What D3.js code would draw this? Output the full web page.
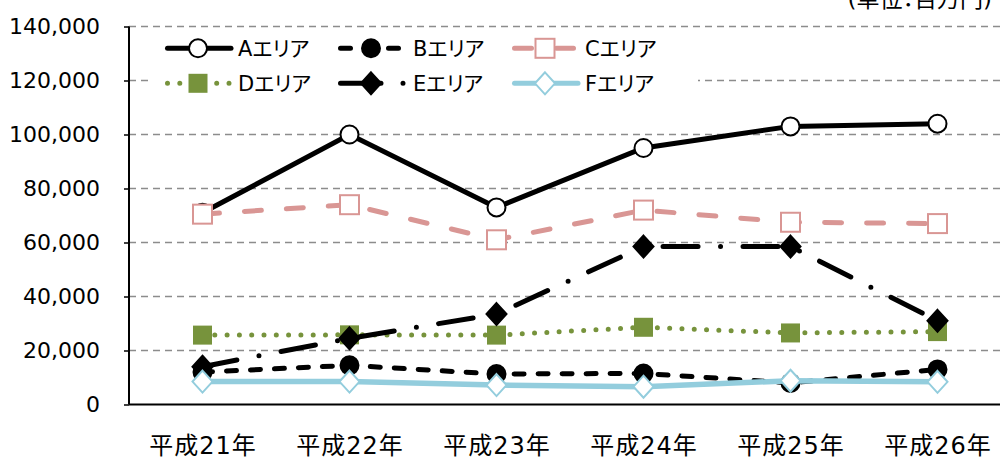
<!DOCTYPE html>
<html>
<head>
<meta charset="utf-8">
<script src="https://cdn.jsdelivr.net/npm/d3@7"></script>
<style>
  body { margin: 0; background: #fff; }
  svg { display: block; }
  text { font-family: "DejaVu Sans", "Noto Sans CJK JP", sans-serif; font-feature-settings: "palt"; fill: #000; }
</style>
</head>
<body>
<div id="main"></div>
<script>
const years = ['平成21年', '平成22年', '平成23年', '平成24年', '平成25年', '平成26年'];
const yTicks = [0, 20000, 40000, 60000, 80000, 100000, 120000, 140000];

const areaA = [71000, 100000, 73000, 95000, 103000, 104000];
const areaB = [12000, 14500, 11300, 11500, 8000, 13000];
const areaC = [70500, 74000, 61000, 72000, 67500, 67000];
const areaD = [25700, 25800, 25700, 28600, 26500, 27000];
const areaE = [14000, 24500, 33500, 58500, 58500, 31000];
const areaF = [8500, 8500, 7200, 6600, 8800, 8400];

const unitLabel = '(単位：百万円)';

const series = [
  {name: 'Aエリア', values: areaA, color: '#000', dash: null, marker: 'circle', fill: '#fff'},
  {name: 'Bエリア', values: areaB, color: '#000', dash: '10,14', marker: 'circle', fill: '#000'},
  {name: 'Cエリア', values: areaC, color: '#D99694', dash: '17,25', marker: 'square', fill: '#fff'},
  {name: 'Dエリア', values: areaD, color: '#77933C', dash: '0,12.3', marker: 'square', fill: '#77933C'},
  {name: 'Eエリア', values: areaE, color: '#000', dash: '35,22.5,0,22.5', marker: 'diamond', fill: '#000'},
  {name: 'Fエリア', values: areaF, color: '#93CDDD', dash: null, marker: 'diamond', fill: '#fff'}
];

const width = 1000, height = 459;
const plotLeft = 129, plotRight = 1011, plotTop = 26.5, plotBottom = 404.5;

const svg = d3.select('#main').append('svg')
    .attr('width', width)
    .attr('height', height);

const x = d3.scalePoint()
    .domain(years)
    .range([plotLeft, plotRight])
    .padding(0.5);

const y = d3.scaleLinear()
    .domain([0, 140000])
    .range([plotBottom, plotTop]);

// unit label, cropped at the top edge as in the source
svg.append('text')
    .attr('x', 992)
    .attr('y', 7)
    .attr('text-anchor', 'end')
    .style('font-size', '23px')
    .text(unitLabel);

// gridlines
svg.append('g')
    .selectAll('line')
    .data(yTicks.filter(d => d > 0))
    .join('line')
      .attr('x1', plotLeft)
      .attr('x2', width)
      .attr('y1', d => y(d))
      .attr('y2', d => y(d))
      .attr('stroke', '#8c8c8c')
      .attr('stroke-width', 1.6)
      .attr('stroke-dasharray', '7,5');

// y axis
svg.append('g')
    .attr('transform', `translate(${plotLeft},0)`)
    .call(d3.axisLeft(y)
      .tickValues(yTicks)
      .tickSize(5)
      .tickPadding(24)
      .tickFormat(d3.format(',')))
    .call(g => g.select('.domain').attr('stroke-width', 2).attr('d', `M0,${plotTop}V${plotBottom}`))
    .call(g => g.selectAll('.tick line').attr('stroke-width', 1.5))
    .call(g => g.selectAll('text')
      .style('font-family', '"DejaVu Sans", sans-serif')
      .style('font-size', '22px'));

// x axis
svg.append('g')
    .attr('transform', `translate(0,${plotBottom})`)
    .call(d3.axisBottom(x).tickSize(0))
    .call(g => g.select('.domain').attr('stroke-width', 2).attr('d', `M${plotLeft},0H${width}`))
    .call(g => g.selectAll('text')
      .attr('y', 49)
      .attr('dy', null)
      .style('letter-spacing', '1px')
      .style('font-family', '"DejaVu Sans", "Noto Sans CJK JP", sans-serif')
      .style('font-size', '24px'));

function drawMarker(sel, s) {
  if (s.marker === 'circle') {
    sel.append('circle').attr('r', 9);
  } else if (s.marker === 'square') {
    sel.append('rect').attr('x', -9.5).attr('y', -9.5).attr('width', 19).attr('height', 19);
  } else {
    sel.append('path').attr('d', 'M0,-11L10,0L0,11L-10,0Z');
  }
  sel.selectAll('*')
      .attr('fill', s.fill)
      .attr('stroke', s.marker === 'square' && s.fill !== '#fff' ? 'none' : s.color)
      .attr('stroke-width', 2);
}

const line = d3.line()
    .x((d, i) => x(years[i]))
    .y(d => y(d));

const plot = svg.append('g');

series.forEach(s => {
  const g = plot.append('g');
  g.append('path')
      .datum(s.values)
      .attr('d', line)
      .attr('fill', 'none')
      .attr('stroke', s.color)
      .attr('stroke-width', s.name === 'Fエリア' ? 5.5 : 5)
      .attr('stroke-linecap', s.dash ? 'round' : 'butt')
      .attr('stroke-dasharray', s.dash);
  g.selectAll('.marker')
      .data(s.values)
      .join('g')
        .attr('class', 'marker')
        .attr('transform', (d, i) => `translate(${x(years[i])},${y(d)})`)
        .each(function() { drawMarker(d3.select(this), s); });
});

// legend
const legend = svg.append('g');
legend.append('rect')
    .attr('x', 150).attr('y', 32)
    .attr('width', 548).attr('height', 69)
    .attr('fill', '#fff');

const colX = [165, 338, 512];
const textX = [238, 413, 585];
const rowY = [48.3, 83.3];

series.forEach((s, i) => {
  const lx = colX[i % 3], ly = rowY[Math.floor(i / 3)];
  const item = legend.append('g');
  let x2 = lx + 66, dash = s.dash;
  if (s.name === 'Eエリア') { x2 = 410; dash = '40.5,22,0,40'; }
  item.append('line')
      .attr('x1', lx + 2.5).attr('x2', x2)
      .attr('y1', ly).attr('y2', ly)
      .attr('stroke', s.color)
      .attr('stroke-width', 5)
      .attr('stroke-linecap', 'round')
      .attr('stroke-dasharray', dash);
  const m = item.append('g')
      .attr('transform', `translate(${lx + 33},${ly})`);
  drawMarker(m, s);
  item.append('text')
      .attr('x', textX[i % 3])
      .attr('y', ly)
      .attr('dy', '0.36em')
      .style('font-size', '21px')
      .text(s.name);
});
</script>
</body>
</html>
